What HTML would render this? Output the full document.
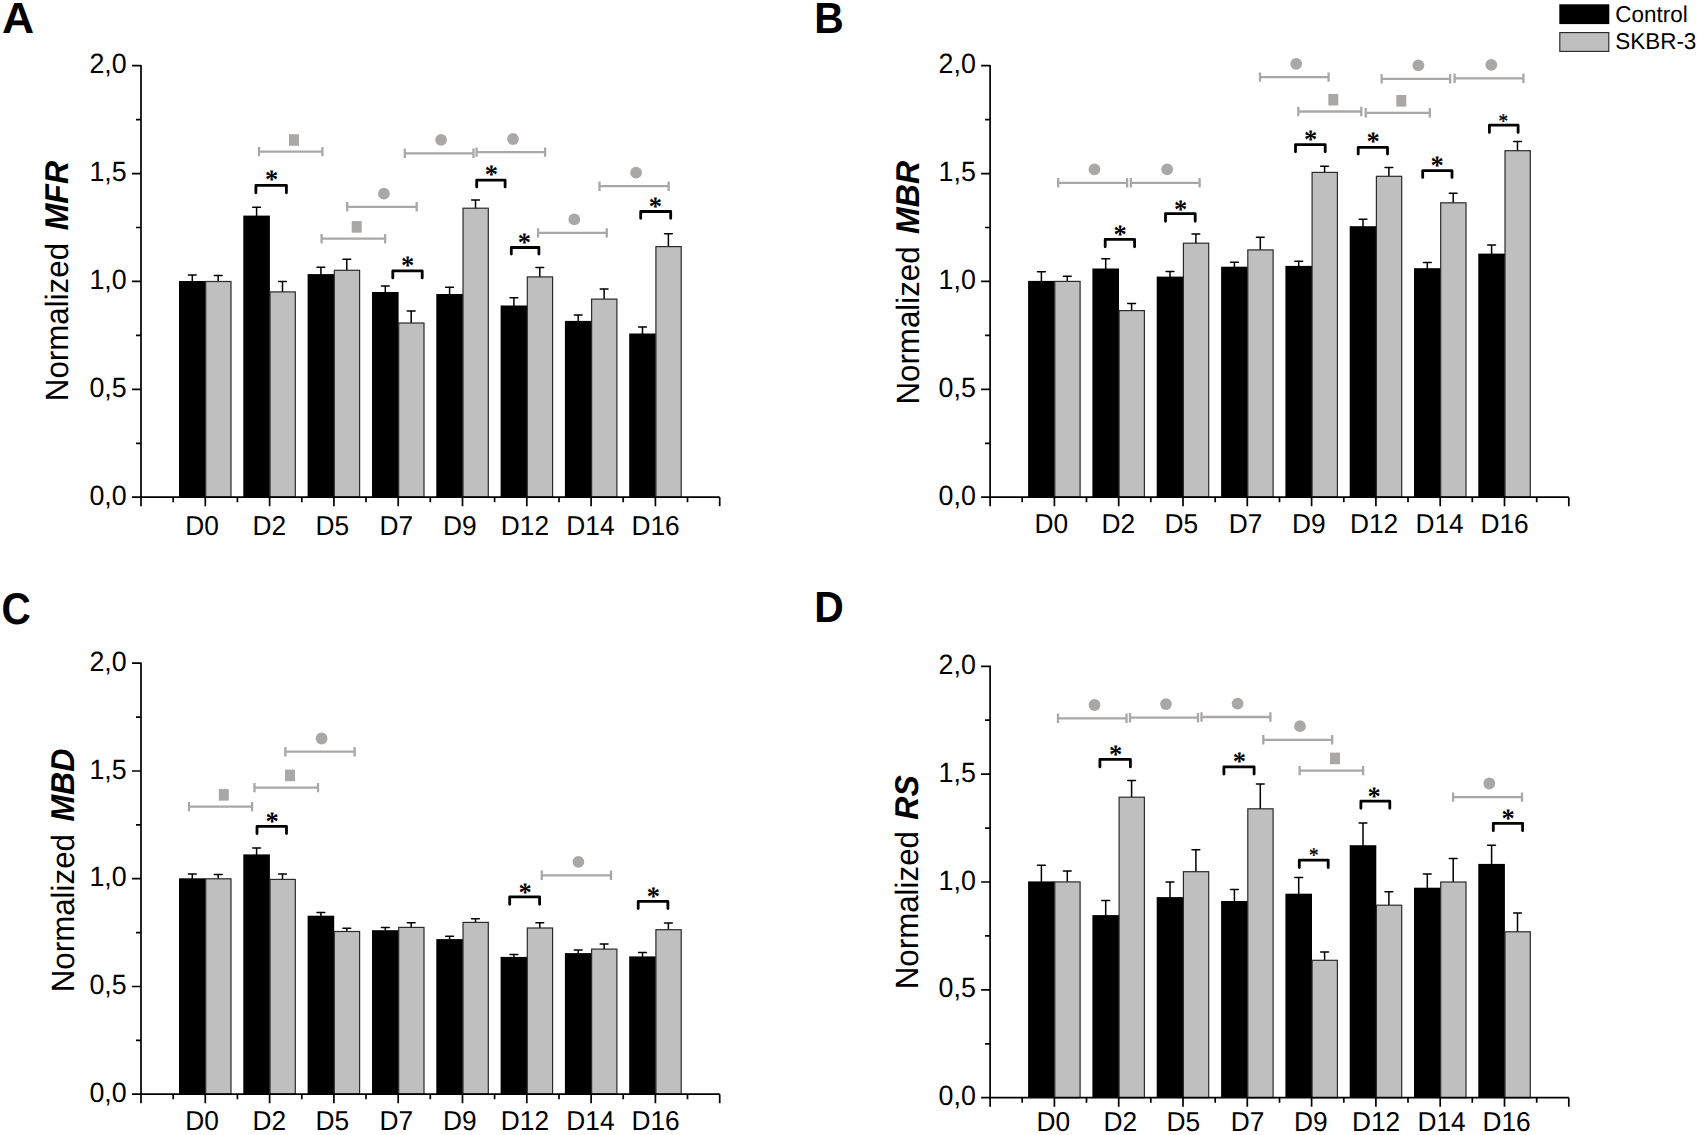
<!DOCTYPE html>
<html lang="en">
<head>
<meta charset="utf-8">
<title>Normalized MFR, MBR, MBD and RS: Control vs SKBR-3</title>
<style>
html,body{margin:0;padding:0;background:#fff}
body{width:1699px;height:1135px;overflow:hidden}
svg{display:block;text-rendering:geometricPrecision;font-family:"Liberation Sans",sans-serif;fill:#000}
.axis{stroke:#000;stroke-width:1.7;fill:none}
.err{stroke:#000;stroke-width:1.5;fill:none;stroke-linecap:round}
.kb{fill:#000}
.gb{fill:#bfbfbf;stroke:#2b2b2b;stroke-width:1.2}
.tk{font-size:26.3px}
.tk2{font-size:26.8px}
.yl{font-size:31.3px}
.yl2{font-size:32px;font-weight:bold;font-style:italic}
.pl{font-size:42px;font-weight:bold}
.lg{font-size:22.45px}
.gbr{stroke:#aaa8a7;stroke-width:2.3;fill:none}
.sym{fill:#aaa8a7}
.bbr{stroke:#000;stroke-width:2.8;fill:none;stroke-linejoin:round;stroke-linecap:round}
.ast{font-family:"Liberation Serif","DejaVu Serif",serif;font-size:26.5px;font-weight:bold}
.ast2{font-family:"Liberation Serif","DejaVu Serif",serif;font-size:20.3px;stroke:#000;stroke-width:0.35}
</style>
</head>
<body>
<svg width="1699" height="1135" viewBox="0 0 1699 1135">
<rect width="1699" height="1135" fill="#fff"/>
<g class="panel">
<path class="err" d="M192.3 282.5V275M188.4 275h7.8M218.2 282.5V275.4M214.3 275.4h7.8"/>
<rect class="kb" x="179" y="281" width="26.6" height="216.2"/>
<rect class="gb" x="205.7" y="281.5" width="25.3" height="215.7"/>
<path class="err" d="M256.6 217.1V207.3M252.7 207.3h7.8M282.5 292.9V281.5M278.6 281.5h7.8"/>
<rect class="kb" x="243.3" y="215.6" width="26.6" height="281.6"/>
<rect class="gb" x="270" y="291.9" width="25.3" height="205.3"/>
<path class="err" d="M320.9 275.6V267.2M317 267.2h7.8M346.8 271.3V259.3M342.9 259.3h7.8"/>
<rect class="kb" x="307.6" y="274.1" width="26.6" height="223.1"/>
<rect class="gb" x="334.3" y="270.3" width="25.3" height="226.9"/>
<path class="err" d="M385.3 293.5V286M381.4 286h7.8M411.2 324V311M407.3 311h7.8"/>
<rect class="kb" x="372" y="292" width="26.6" height="205.2"/>
<rect class="gb" x="398.7" y="323" width="25.3" height="174.2"/>
<path class="err" d="M449.6 295.5V287.3M445.7 287.3h7.8M475.5 209.2V199.9M471.6 199.9h7.8"/>
<rect class="kb" x="436.3" y="294" width="26.6" height="203.2"/>
<rect class="gb" x="463" y="208.2" width="25.3" height="289"/>
<path class="err" d="M513.9 307V297.8M510 297.8h7.8M539.8 277.9V267.5M535.9 267.5h7.8"/>
<rect class="kb" x="500.6" y="305.5" width="26.6" height="191.7"/>
<rect class="gb" x="527.3" y="276.9" width="25.3" height="220.3"/>
<path class="err" d="M578.2 322.4V315M574.3 315h7.8M604.1 300.1V289.1M600.2 289.1h7.8"/>
<rect class="kb" x="564.9" y="320.9" width="26.6" height="176.3"/>
<rect class="gb" x="591.6" y="299.1" width="25.3" height="198.1"/>
<path class="err" d="M642.5 335V327M638.6 327h7.8M668.4 247.6V233.7M664.5 233.7h7.8"/>
<rect class="kb" x="629.2" y="333.5" width="26.6" height="163.7"/>
<rect class="gb" x="655.9" y="246.6" width="25.3" height="250.6"/>
<path class="axis" d="M132 497.2H719.7M141 64.9V506.2M205.3 497.2v9M269.6 497.2v9M333.9 497.2v9M398.2 497.2v9M462.5 497.2v9M526.8 497.2v9M591.1 497.2v9M655.4 497.2v9M719.7 497.2v9M173.2 497.2v5M237.4 497.2v5M301.8 497.2v5M366 497.2v5M430.3 497.2v5M494.6 497.2v5M559 497.2v5M623.2 497.2v5M687.5 497.2v5M141 389.3h-9M141 281.4h-9M141 173.6h-9M141 65.7h-9M141 443.3h-5M141 335.4h-5M141 227.5h-5M141 119.6h-5"/>
<text class="tk2" text-anchor="end" transform="translate(126.7 504.7) scale(1 1.04)">0,0</text>
<text class="tk2" text-anchor="end" transform="translate(126.7 396.8) scale(1 1.04)">0,5</text>
<text class="tk2" text-anchor="end" transform="translate(126.7 288.9) scale(1 1.04)">1,0</text>
<text class="tk2" text-anchor="end" transform="translate(126.7 181.1) scale(1 1.04)">1,5</text>
<text class="tk2" text-anchor="end" transform="translate(126.7 73.2) scale(1 1.04)">2,0</text>
<text class="tk" transform="translate(185.3 534.6) scale(1 1.04)">D0</text>
<text class="tk" transform="translate(252.4 534.6) scale(1 1.04)">D2</text>
<text class="tk" transform="translate(315.5 534.6) scale(1 1.04)">D5</text>
<text class="tk" transform="translate(379.6 534.6) scale(1 1.04)">D7</text>
<text class="tk" transform="translate(443 534.6) scale(1 1.04)">D9</text>
<text class="tk" transform="translate(500.8 534.6) scale(1 1.04)">D12</text>
<text class="tk" transform="translate(566.3 534.6) scale(1 1.04)">D14</text>
<text class="tk" transform="translate(631.4 534.6) scale(1 1.04)">D16</text>
<text class="yl" transform="translate(67.8 401.2) rotate(-90) scale(1 1.03)">Normalized</text>
<text class="yl2" text-anchor="end" transform="translate(67.8 161) rotate(-90) scale(1 1.03)">MFR</text>
<text class="pl" transform="translate(1.9 32.8) scale(1.06 1.04)">A</text>
<path class="gbr" d="M259 151.6H322.4M259 146.9v9.4M322.4 146.9v9.4"/>
<rect class="sym" x="289" y="134.2" width="10" height="11.6"/>
<path class="gbr" d="M347.2 206.8H416.7M347.2 202.1v9.4M416.7 202.1v9.4"/>
<circle class="sym" cx="383.9" cy="193.7" r="5.9"/>
<path class="gbr" d="M321.6 238.7H385.1M321.6 234v9.4M385.1 234v9.4"/>
<rect class="sym" x="351.7" y="221.1" width="10" height="11.6"/>
<path class="gbr" d="M404.8 153.3H473.5M404.8 148.6v9.4M473.5 148.6v9.4"/>
<circle class="sym" cx="441.1" cy="139.8" r="5.9"/>
<path class="gbr" d="M476.6 152.1H545.1M476.6 147.4v9.4M545.1 147.4v9.4"/>
<circle class="sym" cx="513" cy="139" r="5.9"/>
<path class="gbr" d="M538.1 232.9H606.8M538.1 228.2v9.4M606.8 228.2v9.4"/>
<circle class="sym" cx="574.3" cy="219.4" r="5.9"/>
<path class="gbr" d="M599.5 186.2H668.7M599.5 181.5v9.4M668.7 181.5v9.4"/>
<circle class="sym" cx="636.1" cy="172.7" r="5.9"/>
<path class="bbr" d="M255.9 192.8V185.3H286.4V192.8"/>
<text class="ast" text-anchor="middle" x="271.5" y="187.8">*</text>
<path class="bbr" d="M392.8 277.9V270.9H422.2V277.9"/>
<text class="ast" text-anchor="middle" x="407.6" y="273.9">*</text>
<path class="bbr" d="M476.7 186.9V180.2H505.1V186.9"/>
<text class="ast" text-anchor="middle" x="491.4" y="183.2">*</text>
<path class="bbr" d="M511.3 254V247.5H538.9V254"/>
<text class="ast" text-anchor="middle" x="524.4" y="251.1">*</text>
<path class="bbr" d="M640.7 218.3V211.5H670.7V218.3"/>
<text class="ast" text-anchor="middle" x="655.4" y="214.5">*</text>
</g>
<g class="panel">
<path class="err" d="M1041.4 282.4V271.8M1037.5 271.8h7.8M1067.3 282.4V276.3M1063.4 276.3h7.8"/>
<rect class="kb" x="1028.1" y="280.9" width="26.6" height="216.3"/>
<rect class="gb" x="1054.8" y="281.4" width="25.3" height="215.8"/>
<path class="err" d="M1105.7 270V258.7M1101.8 258.7h7.8M1131.6 311.6V303.5M1127.7 303.5h7.8"/>
<rect class="kb" x="1092.4" y="268.5" width="26.6" height="228.7"/>
<rect class="gb" x="1119.1" y="310.6" width="25.3" height="186.6"/>
<path class="err" d="M1170 278.1V271.5M1166.1 271.5h7.8M1195.9 244.2V233.9M1192 233.9h7.8"/>
<rect class="kb" x="1156.7" y="276.6" width="26.6" height="220.6"/>
<rect class="gb" x="1183.4" y="243.2" width="25.3" height="254"/>
<path class="err" d="M1234.4 268.2V262.3M1230.5 262.3h7.8M1260.3 250.9V237.2M1256.4 237.2h7.8"/>
<rect class="kb" x="1221.1" y="266.7" width="26.6" height="230.5"/>
<rect class="gb" x="1247.8" y="249.9" width="25.3" height="247.3"/>
<path class="err" d="M1298.7 267.4V261.3M1294.8 261.3h7.8M1324.6 173.4V166.3M1320.7 166.3h7.8"/>
<rect class="kb" x="1285.4" y="265.9" width="26.6" height="231.3"/>
<rect class="gb" x="1312.1" y="172.4" width="25.3" height="324.8"/>
<path class="err" d="M1363 227.7V219.3M1359.1 219.3h7.8M1388.9 177.3V167.5M1385 167.5h7.8"/>
<rect class="kb" x="1349.7" y="226.2" width="26.6" height="271"/>
<rect class="gb" x="1376.4" y="176.3" width="25.3" height="320.9"/>
<path class="err" d="M1427.3 269.7V262.6M1423.4 262.6h7.8M1453.2 203.8V193.3M1449.3 193.3h7.8"/>
<rect class="kb" x="1414" y="268.2" width="26.6" height="229"/>
<rect class="gb" x="1440.7" y="202.8" width="25.3" height="294.4"/>
<path class="err" d="M1491.6 255.1V245M1487.7 245h7.8M1517.5 151.7V141.5M1513.6 141.5h7.8"/>
<rect class="kb" x="1478.3" y="253.6" width="26.6" height="243.6"/>
<rect class="gb" x="1505" y="150.7" width="25.3" height="346.5"/>
<path class="axis" d="M981.1 497.2H1568.8M990.1 64.9V506.2M1054.4 497.2v9M1118.7 497.2v9M1183 497.2v9M1247.3 497.2v9M1311.6 497.2v9M1375.9 497.2v9M1440.2 497.2v9M1504.5 497.2v9M1568.8 497.2v9M1022.2 497.2v5M1086.5 497.2v5M1150.8 497.2v5M1215.2 497.2v5M1279.5 497.2v5M1343.8 497.2v5M1408 497.2v5M1472.3 497.2v5M1536.7 497.2v5M990.1 389.3h-9M990.1 281.4h-9M990.1 173.6h-9M990.1 65.7h-9M990.1 443.3h-5M990.1 335.4h-5M990.1 227.5h-5M990.1 119.6h-5"/>
<text class="tk2" text-anchor="end" transform="translate(975.8 504.7) scale(1 1.04)">0,0</text>
<text class="tk2" text-anchor="end" transform="translate(975.8 396.8) scale(1 1.04)">0,5</text>
<text class="tk2" text-anchor="end" transform="translate(975.8 288.9) scale(1 1.04)">1,0</text>
<text class="tk2" text-anchor="end" transform="translate(975.8 181.1) scale(1 1.04)">1,5</text>
<text class="tk2" text-anchor="end" transform="translate(975.8 73.2) scale(1 1.04)">2,0</text>
<text class="tk" transform="translate(1034.4 533) scale(1 1.04)">D0</text>
<text class="tk" transform="translate(1101.5 533) scale(1 1.04)">D2</text>
<text class="tk" transform="translate(1164.6 533) scale(1 1.04)">D5</text>
<text class="tk" transform="translate(1228.7 533) scale(1 1.04)">D7</text>
<text class="tk" transform="translate(1292.1 533) scale(1 1.04)">D9</text>
<text class="tk" transform="translate(1349.9 533) scale(1 1.04)">D12</text>
<text class="tk" transform="translate(1415.4 533) scale(1 1.04)">D14</text>
<text class="tk" transform="translate(1480.5 533) scale(1 1.04)">D16</text>
<text class="yl" transform="translate(918.6 404.6) rotate(-90) scale(1 1.03)">Normalized</text>
<text class="yl2" text-anchor="end" transform="translate(918.6 161) rotate(-90) scale(1 1.03)">MBR</text>
<text class="pl" transform="translate(814.2 33) scale(0.973 1.04)">B</text>
<path class="gbr" d="M1058.2 182.8H1127.1M1058.2 178.1v9.4M1127.1 178.1v9.4"/>
<circle class="sym" cx="1094.5" cy="169.3" r="5.9"/>
<path class="gbr" d="M1130.9 182.8H1199.6M1130.9 178.1v9.4M1199.6 178.1v9.4"/>
<circle class="sym" cx="1167.2" cy="169.3" r="5.9"/>
<path class="gbr" d="M1260 77.1H1328.6M1260 72.4v9.4M1328.6 72.4v9.4"/>
<circle class="sym" cx="1296.2" cy="63.8" r="5.9"/>
<path class="gbr" d="M1381.6 78.8H1450.1M1381.6 74.1v9.4M1450.1 74.1v9.4"/>
<circle class="sym" cx="1418.4" cy="65.3" r="5.9"/>
<path class="gbr" d="M1454.6 78.3H1523.4M1454.6 73.6v9.4M1523.4 73.6v9.4"/>
<circle class="sym" cx="1491.3" cy="64.9" r="5.9"/>
<path class="gbr" d="M1298.3 111.5H1361.3M1298.3 106.8v9.4M1361.3 106.8v9.4"/>
<rect class="sym" x="1328.3" y="93.9" width="10" height="11.6"/>
<path class="gbr" d="M1365.7 112.8H1429.8M1365.7 108.1v9.4M1429.8 108.1v9.4"/>
<rect class="sym" x="1396.3" y="95" width="10" height="11.6"/>
<path class="bbr" d="M1105.2 246.8V239.4H1134.6V246.8"/>
<text class="ast" text-anchor="middle" x="1120.2" y="243.1">*</text>
<path class="bbr" d="M1165.5 221.3V213.7H1195.2V221.3"/>
<text class="ast" text-anchor="middle" x="1180.7" y="217.6">*</text>
<path class="bbr" d="M1295.5 151.8V144.7H1325.2V151.8"/>
<text class="ast" text-anchor="middle" x="1310.6" y="148.3">*</text>
<path class="bbr" d="M1358.2 154.1V147.4H1387.5V154.1"/>
<text class="ast" text-anchor="middle" x="1373" y="150.1">*</text>
<path class="bbr" d="M1422.7 177.4V170.7H1452V177.4"/>
<text class="ast" text-anchor="middle" x="1437.2" y="173.6">*</text>
<path class="bbr" d="M1489.4 132.4V125.2H1518.1V132.4"/>
<text class="ast2" text-anchor="middle" transform="translate(1503.3 128.2) scale(0.94 1.04)">*</text>
</g>
<g class="panel">
<path class="err" d="M192.3 879.8V874.1M188.4 874.1h7.8M218.2 879.8V874.6M214.3 874.6h7.8"/>
<rect class="kb" x="179" y="878.3" width="26.6" height="215.9"/>
<rect class="gb" x="205.7" y="878.8" width="25.3" height="215.4"/>
<path class="err" d="M256.6 855.9V848.1M252.7 848.1h7.8M282.5 880.4V874.1M278.6 874.1h7.8"/>
<rect class="kb" x="243.3" y="854.4" width="26.6" height="239.8"/>
<rect class="gb" x="270" y="879.4" width="25.3" height="214.8"/>
<path class="err" d="M320.9 917.2V912.6M317 912.6h7.8M346.8 932.5V928.2M342.9 928.2h7.8"/>
<rect class="kb" x="307.6" y="915.7" width="26.6" height="178.5"/>
<rect class="gb" x="334.3" y="931.5" width="25.3" height="162.7"/>
<path class="err" d="M385.3 931.7V927.4M381.4 927.4h7.8M411.2 928.4V922.8M407.3 922.8h7.8"/>
<rect class="kb" x="372" y="930.2" width="26.6" height="164"/>
<rect class="gb" x="398.7" y="927.4" width="25.3" height="166.8"/>
<path class="err" d="M449.6 940.6V936.3M445.7 936.3h7.8M475.5 923.4V918.7M471.6 918.7h7.8"/>
<rect class="kb" x="436.3" y="939.1" width="26.6" height="155.1"/>
<rect class="gb" x="463" y="922.4" width="25.3" height="171.8"/>
<path class="err" d="M513.9 958.4V954.4M510 954.4h7.8M539.8 929V922.8M535.9 922.8h7.8"/>
<rect class="kb" x="500.6" y="956.9" width="26.6" height="137.3"/>
<rect class="gb" x="527.3" y="928" width="25.3" height="166.2"/>
<path class="err" d="M578.2 954.6V950M574.3 950h7.8M604.1 950.1V943.9M600.2 943.9h7.8"/>
<rect class="kb" x="564.9" y="953.1" width="26.6" height="141.1"/>
<rect class="gb" x="591.6" y="949.1" width="25.3" height="145.1"/>
<path class="err" d="M642.5 957.9V952.4M638.6 952.4h7.8M668.4 930.7V923.1M664.5 923.1h7.8"/>
<rect class="kb" x="629.2" y="956.4" width="26.6" height="137.8"/>
<rect class="gb" x="655.9" y="929.7" width="25.3" height="164.5"/>
<path class="axis" d="M132 1094.2H719.7M141 662.4V1103.2M205.3 1094.2v9M269.6 1094.2v9M333.9 1094.2v9M398.2 1094.2v9M462.5 1094.2v9M526.8 1094.2v9M591.1 1094.2v9M655.4 1094.2v9M719.7 1094.2v9M173.2 1094.2v5M237.4 1094.2v5M301.8 1094.2v5M366 1094.2v5M430.3 1094.2v5M494.6 1094.2v5M559 1094.2v5M623.2 1094.2v5M687.5 1094.2v5M141 986.5h-9M141 878.7h-9M141 771h-9M141 663.2h-9M141 1040.3h-5M141 932.6h-5M141 824.8h-5M141 717.1h-5"/>
<text class="tk2" text-anchor="end" transform="translate(126.7 1101.7) scale(1 1.04)">0,0</text>
<text class="tk2" text-anchor="end" transform="translate(126.7 994) scale(1 1.04)">0,5</text>
<text class="tk2" text-anchor="end" transform="translate(126.7 886.2) scale(1 1.04)">1,0</text>
<text class="tk2" text-anchor="end" transform="translate(126.7 778.5) scale(1 1.04)">1,5</text>
<text class="tk2" text-anchor="end" transform="translate(126.7 670.7) scale(1 1.04)">2,0</text>
<text class="tk" transform="translate(185.3 1129.7) scale(1 1.04)">D0</text>
<text class="tk" transform="translate(252.4 1129.7) scale(1 1.04)">D2</text>
<text class="tk" transform="translate(315.5 1129.7) scale(1 1.04)">D5</text>
<text class="tk" transform="translate(379.6 1129.7) scale(1 1.04)">D7</text>
<text class="tk" transform="translate(443 1129.7) scale(1 1.04)">D9</text>
<text class="tk" transform="translate(500.8 1129.7) scale(1 1.04)">D12</text>
<text class="tk" transform="translate(566.3 1129.7) scale(1 1.04)">D14</text>
<text class="tk" transform="translate(631.4 1129.7) scale(1 1.04)">D16</text>
<text class="yl" transform="translate(73.5 992.3) rotate(-90) scale(1 1.03)">Normalized</text>
<text class="yl2" text-anchor="end" transform="translate(73.5 748.7) rotate(-90) scale(1 1.03)">MBD</text>
<text class="pl" transform="translate(1.6 623.5) scale(0.965 1.055)">C</text>
<path class="gbr" d="M189 806.6H252.1M189 801.9v9.4M252.1 801.9v9.4"/>
<rect class="sym" x="218.8" y="789.1" width="10" height="11.6"/>
<path class="gbr" d="M254.5 787.6H318M254.5 782.9v9.4M318 782.9v9.4"/>
<rect class="sym" x="285" y="769.6" width="10" height="11.6"/>
<path class="gbr" d="M285.4 751.7H354.6M285.4 747v9.4M354.6 747v9.4"/>
<circle class="sym" cx="321.6" cy="738.5" r="5.9"/>
<path class="gbr" d="M541.8 875.3H611M541.8 870.6v9.4M611 870.6v9.4"/>
<circle class="sym" cx="578.4" cy="861.8" r="5.9"/>
<path class="bbr" d="M257 833.5V826.4H286.5V833.5"/>
<text class="ast" text-anchor="middle" x="272.2" y="829.7">*</text>
<path class="bbr" d="M509.7 904.3V896.8H539.6V904.3"/>
<text class="ast" text-anchor="middle" x="525" y="900.6">*</text>
<path class="bbr" d="M638.2 908.5V901.4H667.9V908.5"/>
<text class="ast" text-anchor="middle" x="653.4" y="904.7">*</text>
</g>
<g class="panel">
<path class="err" d="M1041.4 882.9V865.3M1037.5 865.3h7.8M1067.3 882.9V871M1063.4 871h7.8"/>
<rect class="kb" x="1028.1" y="881.4" width="26.6" height="216.3"/>
<rect class="gb" x="1054.8" y="881.9" width="25.3" height="215.8"/>
<path class="err" d="M1105.7 916.6V900.4M1101.8 900.4h7.8M1131.6 798.2V780.4M1127.7 780.4h7.8"/>
<rect class="kb" x="1092.4" y="915.1" width="26.6" height="182.6"/>
<rect class="gb" x="1119.1" y="797.2" width="25.3" height="300.5"/>
<path class="err" d="M1170 898.6V882M1166.1 882h7.8M1195.9 872.7V849.8M1192 849.8h7.8"/>
<rect class="kb" x="1156.7" y="897.1" width="26.6" height="200.6"/>
<rect class="gb" x="1183.4" y="871.7" width="25.3" height="226"/>
<path class="err" d="M1234.4 902.5V889.6M1230.5 889.6h7.8M1260.3 809.8V783.9M1256.4 783.9h7.8"/>
<rect class="kb" x="1221.1" y="901" width="26.6" height="196.7"/>
<rect class="gb" x="1247.8" y="808.8" width="25.3" height="288.9"/>
<path class="err" d="M1298.7 895.2V877.4M1294.8 877.4h7.8M1324.6 961.3V952M1320.7 952h7.8"/>
<rect class="kb" x="1285.4" y="893.7" width="26.6" height="204"/>
<rect class="gb" x="1312.1" y="960.3" width="25.3" height="137.4"/>
<path class="err" d="M1363 846.7V823.1M1359.1 823.1h7.8M1388.9 906.2V891.7M1385 891.7h7.8"/>
<rect class="kb" x="1349.7" y="845.2" width="26.6" height="252.5"/>
<rect class="gb" x="1376.4" y="905.2" width="25.3" height="192.5"/>
<path class="err" d="M1427.3 889.2V874M1423.4 874h7.8M1453.2 883V858.6M1449.3 858.6h7.8"/>
<rect class="kb" x="1414" y="887.7" width="26.6" height="210"/>
<rect class="gb" x="1440.7" y="882" width="25.3" height="215.7"/>
<path class="err" d="M1491.6 865.4V845.3M1487.7 845.3h7.8M1517.5 932.8V913.1M1513.6 913.1h7.8"/>
<rect class="kb" x="1478.3" y="863.9" width="26.6" height="233.8"/>
<rect class="gb" x="1505" y="931.8" width="25.3" height="165.9"/>
<path class="axis" d="M981.1 1097.7H1568.8M990.1 665.4V1106.7M1054.4 1097.7v9M1118.7 1097.7v9M1183 1097.7v9M1247.3 1097.7v9M1311.6 1097.7v9M1375.9 1097.7v9M1440.2 1097.7v9M1504.5 1097.7v9M1568.8 1097.7v9M1022.2 1097.7v5M1086.5 1097.7v5M1150.8 1097.7v5M1215.2 1097.7v5M1279.5 1097.7v5M1343.8 1097.7v5M1408 1097.7v5M1472.3 1097.7v5M1536.7 1097.7v5M990.1 989.9h-9M990.1 882h-9M990.1 774.1h-9M990.1 666.3h-9M990.1 1043.8h-5M990.1 935.9h-5M990.1 828.1h-5M990.1 720.2h-5"/>
<text class="tk2" text-anchor="end" transform="translate(975.8 1105.2) scale(1 1.04)">0,0</text>
<text class="tk2" text-anchor="end" transform="translate(975.8 997.4) scale(1 1.04)">0,5</text>
<text class="tk2" text-anchor="end" transform="translate(975.8 889.5) scale(1 1.04)">1,0</text>
<text class="tk2" text-anchor="end" transform="translate(975.8 781.6) scale(1 1.04)">1,5</text>
<text class="tk2" text-anchor="end" transform="translate(975.8 673.8) scale(1 1.04)">2,0</text>
<text class="tk" transform="translate(1036.4 1131.4) scale(1 1.04)">D0</text>
<text class="tk" transform="translate(1103.5 1131.4) scale(1 1.04)">D2</text>
<text class="tk" transform="translate(1166.6 1131.4) scale(1 1.04)">D5</text>
<text class="tk" transform="translate(1230.7 1131.4) scale(1 1.04)">D7</text>
<text class="tk" transform="translate(1294.1 1131.4) scale(1 1.04)">D9</text>
<text class="tk" transform="translate(1351.9 1131.4) scale(1 1.04)">D12</text>
<text class="tk" transform="translate(1417.4 1131.4) scale(1 1.04)">D14</text>
<text class="tk" transform="translate(1482.5 1131.4) scale(1 1.04)">D16</text>
<text class="yl" transform="translate(917.8 989.3) rotate(-90) scale(1 1.03)">Normalized</text>
<text class="yl2" text-anchor="end" transform="translate(917.8 775.2) rotate(-90) scale(1 1.03)">RS</text>
<text class="pl" transform="translate(814.2 622.4) scale(0.973 1.04)">D</text>
<path class="gbr" d="M1058 718.3H1126.5M1058 713.6v9.4M1126.5 713.6v9.4"/>
<circle class="sym" cx="1094.5" cy="705" r="5.9"/>
<path class="gbr" d="M1130 717.7H1198M1130 713v9.4M1198 713v9.4"/>
<circle class="sym" cx="1166" cy="704.1" r="5.9"/>
<path class="gbr" d="M1201.5 717H1270.4M1201.5 712.3v9.4M1270.4 712.3v9.4"/>
<circle class="sym" cx="1237.6" cy="703.6" r="5.9"/>
<path class="gbr" d="M1263.3 739.8H1332.2M1263.3 735.1v9.4M1332.2 735.1v9.4"/>
<circle class="sym" cx="1300" cy="726.2" r="5.9"/>
<path class="gbr" d="M1299.6 770.6H1363.1M1299.6 765.9v9.4M1363.1 765.9v9.4"/>
<rect class="sym" x="1330" y="752.6" width="10" height="11.6"/>
<path class="gbr" d="M1453.1 797.1H1522M1453.1 792.4v9.4M1522 792.4v9.4"/>
<circle class="sym" cx="1489.3" cy="783.5" r="5.9"/>
<path class="bbr" d="M1099.9 766.9V759.4H1130.4V766.9"/>
<text class="ast" text-anchor="middle" x="1115.5" y="763">*</text>
<path class="bbr" d="M1223.9 774.1V766.8H1254.1V774.1"/>
<text class="ast" text-anchor="middle" x="1239.3" y="769.6">*</text>
<path class="bbr" d="M1299.3 867.6V860.2H1328.2V867.6"/>
<text class="ast2" text-anchor="middle" transform="translate(1313.7 862) scale(0.94 1.04)">*</text>
<path class="bbr" d="M1360.9 808.3V801.2H1389.8V808.3"/>
<text class="ast" text-anchor="middle" x="1374.2" y="805.3">*</text>
<path class="bbr" d="M1493.3 830.7V823.3H1522.6V830.7"/>
<text class="ast" text-anchor="middle" x="1508" y="826.5">*</text>
</g>
<rect x="1559.3" y="4.3" width="50" height="19.8" fill="#000"/>
<rect x="1559.8" y="32.6" width="49" height="18.8" fill="#bfbfbf" stroke="#222" stroke-width="1.1"/>
<text class="lg" transform="translate(1615.3 22.2) scale(1 1.02)">Control</text>
<text class="lg" transform="translate(1615.3 49.1) scale(1 1.02)">SKBR-3</text>
</svg>
</body>
</html>
